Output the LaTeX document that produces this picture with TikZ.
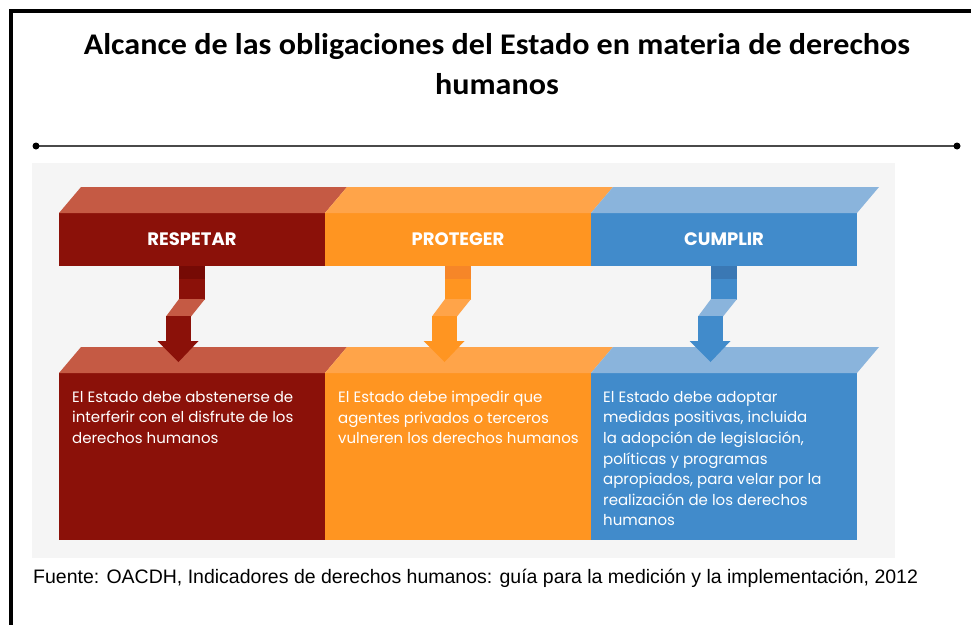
\documentclass[tikz,border=0pt]{standalone}
\usepackage{fontspec}
\setmainfont{Poppins}
\newfontfamily\titlefont[FakeStretch=1.07]{Carlito}
\newfontfamily\notefont{Liberation Sans}
\usetikzlibrary{calc}
\definecolor{redF}{HTML}{8B1109}
\definecolor{redT}{HTML}{C55A44}
\definecolor{redD}{HTML}{760A05}
\definecolor{oraF}{HTML}{FF9521}
\definecolor{oraT}{HTML}{FFA449}
\definecolor{oraD}{HTML}{F68628}
\definecolor{bluF}{HTML}{418BCB}
\definecolor{bluT}{HTML}{8AB4DC}
\definecolor{bluD}{HTML}{3A78B4}
\definecolor{panel}{HTML}{F5F5F5}
\definecolor{rulegray}{HTML}{4A4A4A}
\newcommand{\flowlink}[5]{%
  \fill[#3] ($(#1.south)+(-13,-0.5)$) rectangle ($(#1.south)+(13,13.5)$);
  \fill[#4] ($(#1.south)+(-13,13)$) rectangle ($(#1.south)+(13,33.5)$);
  \fill[#5] ($(#1.south)+(-13,33)$) -- ($(#1.south)+(13,33)$) -- ($(#1.south)+(-1,50.5)$) -- ($(#1.south)+(-26,50.5)$) -- cycle;
  \fill[#4] ($(#1.south)+(-26,50)$) rectangle ($(#1.south)+(-1,75.5)$);
  \fill[#4] ($(#1.south)+(-34.5,75)$) -- ($(#1.south)+(6.5,75)$) -- ($(#2.north)+(-13.5,-11)$) -- cycle;
}
\newcommand{\topface}[2]{%
  \fill[#2] (#1.north west) -- (#1.north east) -- ($(#1.north east)+(22,-26)$) -- ($(#1.north west)+(22,-26)$) -- cycle;
}
\tikzset{
  front/.style={draw=none, inner sep=0pt, outer sep=0pt, minimum width=266pt, anchor=north west},
  headbox/.style={front, minimum height=53pt, text=white, font=\bfseries\fontsize{18}{20}\selectfont},
  bodybox/.style={front, minimum height=167pt},
  bodytext/.style={anchor=north west, inner sep=0pt, align=left, text=white, font=\fontsize{15}{20.6}\selectfont},
}
\begin{document}
\begin{tikzpicture}[x=1pt,y=-1pt]
\useasboundingbox (0,0) rectangle (971,624);
\fill[white] (0,0) rectangle (971,624);
\draw[line width=4pt] (11,626) -- (11,11) -- (973,11);
\node[align=center, font=\titlefont\bfseries\fontsize{30}{40}\selectfont] (title) at (497,64)
  {Alcance de las obligaciones del Estado en materia de derechos\\humanos};
\coordinate (ruleL) at (36,146);
\coordinate (ruleR) at (957,146);
\draw[rulegray, line width=2.2pt] (ruleL) -- (ruleR);
\fill[black] (ruleL) circle (3.5);
\fill[black] (ruleR) circle (3.5);
\fill[panel] (32,163) rectangle (895,558);
% top row
\node[headbox, fill=redF] (resp) at (59,213) {RESPETAR};
\node[headbox, fill=oraF] (prot) at (325,213) {PROTEGER};
\node[headbox, fill=bluF] (cump) at (591,213) {CUMPLIR};
\topface{resp}{redT}
\topface{prot}{oraT}
\topface{cump}{bluT}
% bottom row
\node[bodybox, fill=redF] (respb) at (59,373) {};
\node[bodybox, fill=oraF] (protb) at (325,373) {};
\node[bodybox, fill=bluF] (cumpb) at (591,373) {};
\topface{respb}{redT}
\topface{protb}{oraT}
\topface{cumpb}{bluT}
\node[bodytext] (respt) at ($(respb.north west)+(13,18)$)
  {El Estado debe abstenerse de\\interferir con el disfrute de los\\derechos humanos};
\node[bodytext] (prott) at ($(protb.north west)+(13,18)$)
  {El Estado debe impedir que\\agentes privados o terceros\\vulneren los derechos humanos};
\node[bodytext] (cumpt) at ($(cumpb.north west)+(12,18)$)
  {El Estado debe adoptar\\medidas positivas, incluida\\la adopción de legislación,\\políticas y programas\\apropiados, para velar por la\\realización de los derechos\\humanos};
% connectors
\flowlink{resp}{respb}{redD}{redF}{redT}
\flowlink{prot}{protb}{oraD}{oraF}{oraT}
\flowlink{cump}{cumpb}{bluD}{bluF}{bluT}
\node[anchor=base west, inner sep=0pt, font=\notefont\fontsize{19.5}{22}\selectfont] (source) at (33,583)
  {Fuente: OACDH, Indicadores de derechos humanos: guía para la medición y la implementación, 2012};
\end{tikzpicture}
\end{document}
